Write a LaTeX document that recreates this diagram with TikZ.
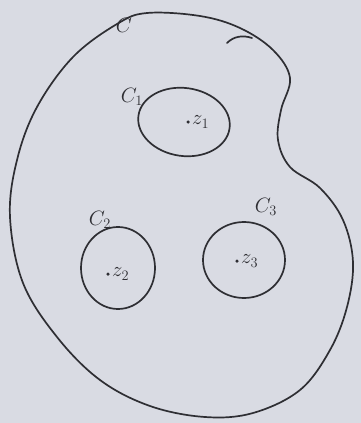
\documentclass[tikz,border=0pt]{standalone}
\usepackage{xcolor}
\usepackage{tikz}
\usetikzlibrary{shapes.geometric, positioning}
\definecolor{paperBg}{HTML}{D9DBE3}
\definecolor{inkDark}{HTML}{2E2E33}

\tikzset{
  ink/.style={draw=inkDark, line width=1.7pt, line cap=round, line join=round},
  loopcirc/.style={ink, ellipse, inner sep=0pt},
  curvelabel/.style={text=inkDark, font=\huge, inner sep=1pt},
  ptdot/.style={circle, fill=inkDark, inner sep=0pt, minimum size=3.5pt}
}

\begin{document}
\begin{tikzpicture}[x=1pt, y=-1pt]
  % paper and bounding box
  \fill[paperBg] (0,0) rectangle (361,423);
  \useasboundingbox (0,0) rectangle (361,423);

  % outer contour C
  \draw[ink] plot[smooth cycle, tension=0.6] coordinates {
    (147,13) (200,16) (240,28) (273,50) (290,78) (281,110) (278,140)
    (290,167) (320,188) (343,220) (353,262) (347,307) (330,350)
    (300,390) (253,413) (205,417) (150,406) (100,380) (57,337)
    (23,283) (10,217) (17,160) (37,107) (73,57) (117,24)};
  \draw[ink] (227,43) .. controls (234,36) and (243,35) .. (252,38);
  \node[curvelabel] (labC) at (124,25) {$C$};

  % small contours
  \node[loopcirc, minimum width=92pt, minimum height=68pt, rotate=-8] (c1) at (184,122) {};
  \node[loopcirc, minimum width=74pt, minimum height=82pt] (c2) at (118,268) {};
  \node[loopcirc, minimum width=82pt, minimum height=76pt] (c3) at (244,260) {};

  \node[curvelabel] (labC1) at (132,97) {$C_1$};
  \node[curvelabel] (labC2) at (100,220) {$C_2$};
  \node[curvelabel] (labC3) at (266,207) {$C_3$};

  % poles
  \node[ptdot] (p1) at (188,122) {};
  \node[ptdot] (p2) at (108,274) {};
  \node[ptdot] (p3) at (237,261) {};
  \node[curvelabel, right=1pt of p1] (labZ1) {$z_1$};
  \node[curvelabel, right=1pt of p2] (labZ2) {$z_2$};
  \node[curvelabel, right=1pt of p3] (labZ3) {$z_3$};
\end{tikzpicture}
\end{document}
